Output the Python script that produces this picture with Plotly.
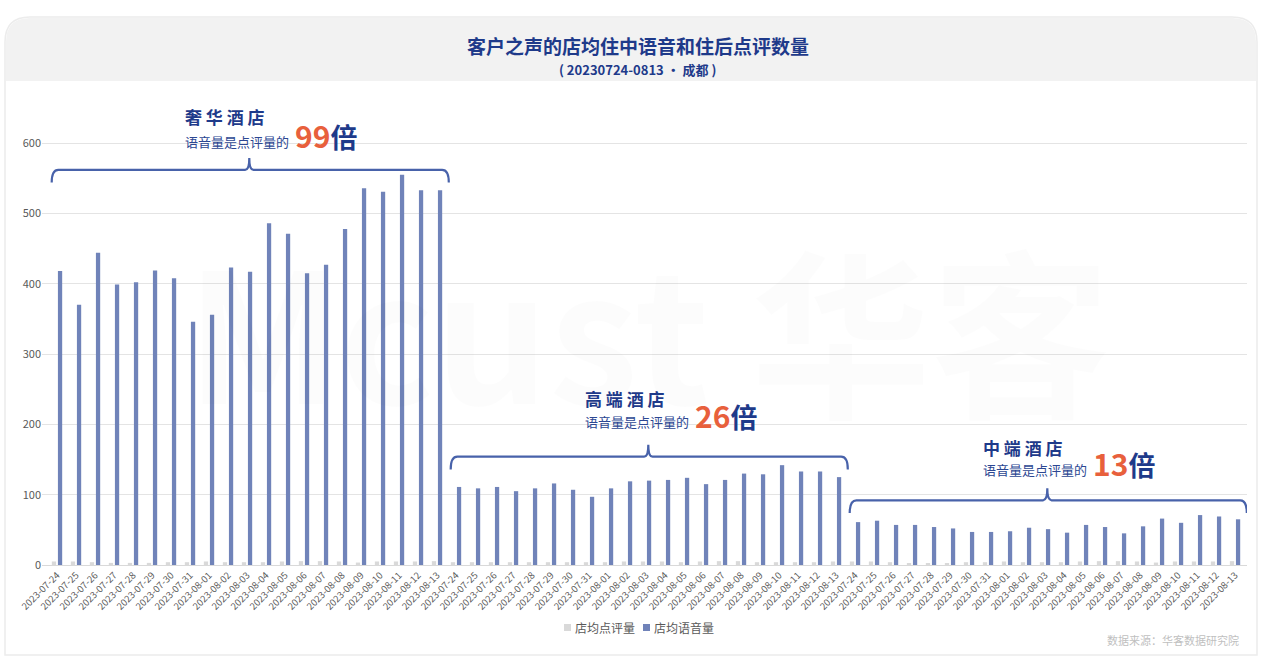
import plotly.graph_objects as go

# ---------------- data ----------------
dates = ["2023-07-24", "2023-07-25", "2023-07-26", "2023-07-27", "2023-07-28", "2023-07-29",
         "2023-07-30", "2023-07-31", "2023-08-01", "2023-08-02", "2023-08-03", "2023-08-04",
         "2023-08-05", "2023-08-06", "2023-08-07", "2023-08-08", "2023-08-09", "2023-08-10",
         "2023-08-11", "2023-08-12", "2023-08-13"]
groups = ["奢华酒店", "高端酒店", "中端酒店"]
ratios = ["99", "26", "13"]
series_names = ["店均点评量", "店均语音量"]

voice_lux = [418, 370, 444, 399, 402, 419, 408, 346, 356, 423, 417, 486, 471, 415, 427, 478,
             536, 531, 555, 533, 533]
voice_high = [111, 109, 111, 105, 109, 116, 107, 97, 109, 119, 120, 121, 124, 115, 121, 130,
              129, 142, 133, 133, 125]
voice_mid = [61, 63, 57, 57, 54, 52, 47, 47, 48, 53, 51, 46, 57, 54, 45, 55, 66, 60, 71, 69, 65]

review_lux = [5, 5, 4, 3, 3, 3, 4, 4, 5, 4, 4, 4, 5, 5.5, 5.5, 5, 3.5, 5, 5, 5, 5.5]
review_high = [4, 4, 4, 4, 4, 4, 4, 4, 4, 5, 5, 5, 4, 5, 5.5, 5.5, 4, 4, 4, 4, 5]
review_mid = [5, 5, 4, 2.5, 2.5, 2.5, 4, 4, 5, 4, 4, 4, 5, 5.5, 5.5, 5, 3.5, 5, 5, 5, 5.5]

bracket_levels = [562, 154, 92]
yticks = [0, 100, 200, 300, 400, 500, 600]

# ---------------- build ----------------
voice = voice_lux + voice_high + voice_mid
review = review_lux + review_high + review_mid
idx = list(range(len(voice)))
ticktext = dates * 3
n = len(dates)

# plot-area geometry (pixels) for decorations
L, R, T, B = 42, 1247, 115, 565
W, H = R - L, B - T


def px(xp):
    return (xp - L) / W


def py(yp):
    return (B - yp) / H


BLUE = "#7083b9"
GRAY = "#d9d9d9"
NAVY = "#1e3a8a"
FONT = "Noto Sans CJK SC"

fig = go.Figure()
fig.add_bar(x=idx, y=review, name=series_names[0], marker_color=GRAY, marker_line_width=0)
fig.add_bar(x=idx, y=voice, name=series_names[1], marker_color=BLUE, marker_line_width=0)

shapes = []
# card
card = (f"M {px(5)},{py(655)} L {px(5)},{py(42)} Q {px(5)},{py(17)} {px(30)},{py(17)} "
        f"L {px(1232)},{py(17)} Q {px(1257)},{py(17)} {px(1257)},{py(42)} L {px(1257)},{py(655)} Z")
shapes.append(dict(type="path", xref="paper", yref="paper", path=card,
                   fillcolor="white", line=dict(color="#ececec", width=1.5), layer="below"))
header = (f"M {px(6)},{py(81)} L {px(6)},{py(42)} Q {px(6)},{py(18)} {px(30)},{py(18)} "
          f"L {px(1232)},{py(18)} Q {px(1256)},{py(18)} {px(1256)},{py(42)} L {px(1256)},{py(81)} Z")
shapes.append(dict(type="path", xref="paper", yref="paper", path=header,
                   fillcolor="#f2f2f2", line=dict(width=0), layer="below"))

# curly brackets over each group
for g, lvl in enumerate(bracket_levels):
    s = g * n
    xL, xR, xm = s - 0.28, s + n - 0.38, s + (n - 1) / 2 + 0.12
    dy, tip, rx, tw = 18, 17, 0.35, 0.22
    p = (f"M {xL},{lvl - dy} Q {xL},{lvl} {xL + rx},{lvl} L {xm - tw},{lvl} "
         f"Q {xm},{lvl} {xm},{lvl + tip} Q {xm},{lvl} {xm + tw},{lvl} "
         f"L {xR - rx},{lvl} Q {xR},{lvl} {xR},{lvl - dy}")
    shapes.append(dict(type="path", xref="x", yref="y", path=p,
                       line=dict(color="#4862aa", width=2.2)))

annotations = []
# watermark
annotations.append(dict(xref="paper", yref="paper", x=px(648), y=py(325), text="<b>Mcust 华客</b>",
                        showarrow=False, font=dict(family=FONT, size=180, color="rgba(0,0,0,0.013)"),
                        xanchor="center", yanchor="middle"))
# titles
annotations.append(dict(xref="paper", yref="paper", x=px(638), y=py(45),
                        text="<b>客户之声的店均住中语音和住后点评数量</b>", showarrow=False,
                        font=dict(family=FONT, size=19, color=NAVY), xanchor="center", yanchor="middle"))
annotations.append(dict(xref="paper", yref="paper", x=px(637), y=py(69),
                        text="<b>( 20230724-0813 • 成都 )</b>", showarrow=False,
                        font=dict(family=FONT, size=13, color=NAVY), xanchor="center", yanchor="middle"))

# (left x, title y, subtitle y, big-number y)
label_pos = [(185, 116, 141, 135), (585, 398, 421, 415), (983, 447, 469, 463)]
for g, (lx, ty, sy, by) in enumerate(label_pos):
    annotations.append(dict(xref="paper", yref="paper", x=px(lx - 2), y=py(ty),
                            text="<b>" + " ".join(groups[g]) + "</b>", showarrow=False,
                            font=dict(family=FONT, size=17, color=NAVY),
                            xanchor="left", yanchor="middle"))
    annotations.append(dict(xref="paper", yref="paper", x=px(lx - 2), y=py(sy),
                            text="语音量是点评量的", showarrow=False,
                            font=dict(family=FONT, size=13, color="#2c4792"),
                            xanchor="left", yanchor="middle"))
    big = ("<span style='color:#e8603c'><b>" + ratios[g] +
           "</b></span><span style='font-size:27px'><b>倍</b></span>")
    annotations.append(dict(xref="paper", yref="paper", x=px(lx + 108), y=py(by),
                            text=big, showarrow=False,
                            font=dict(family=FONT, size=30, color=NAVY),
                            xanchor="left", yanchor="middle"))

# custom legend
leg = [(564, series_names[0], GRAY), (643, series_names[1], BLUE)]
for lx, name, col in leg:
    shapes.append(dict(type="rect", xref="paper", yref="paper", x0=px(lx), x1=px(lx + 7),
                       y0=py(631), y1=py(624), fillcolor=col, line=dict(width=0)))
    annotations.append(dict(xref="paper", yref="paper", x=px(lx + 9), y=py(627.5), text=name,
                            showarrow=False, font=dict(family=FONT, size=12, color="#595959"),
                            xanchor="left", yanchor="middle"))

annotations.append(dict(xref="paper", yref="paper", x=px(1241), y=py(640),
                        text="数据来源：华客数据研究院", showarrow=False,
                        font=dict(family=FONT, size=11, color="#bfbfbf"),
                        xanchor="right", yanchor="middle"))

fig.update_layout(
    width=1268, height=666,
    margin=dict(l=L, r=1268 - R, t=T, b=666 - B, autoexpand=False),
    paper_bgcolor="white", plot_bgcolor="rgba(0,0,0,0)",
    barmode="group", bargap=0.36, bargroupgap=0.3,
    font=dict(family=FONT, color="#595959"),
    showlegend=False,
    shapes=shapes, annotations=annotations,
)
fig.update_xaxes(range=[-0.79, len(idx) - 0.37], tickmode="array", tickvals=idx, ticktext=ticktext,
                 tickangle=-45, tickfont=dict(size=9.5, color="#595959"), showgrid=False,
                 showline=True, linecolor="#d9d9d9", linewidth=1, ticks="", zeroline=False)
fig.update_yaxes(range=[0, 640], tickmode="array", tickvals=yticks,
                 tickfont=dict(size=11, color="#595959"), showgrid=True, gridcolor="#e4e4e4",
                 gridwidth=1, zeroline=False, showline=False, ticks="")

fig.write_html("out.html", config={"displayModeBar": False},
               post_script="document.body.style.margin='0';")
